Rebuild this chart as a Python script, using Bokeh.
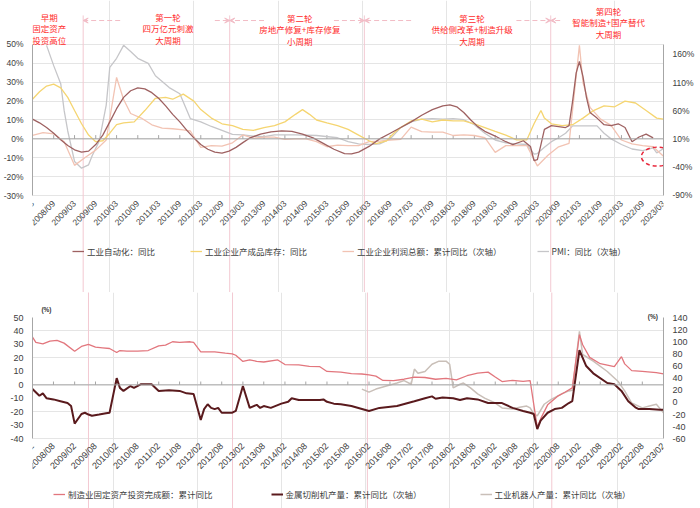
import pandas as pd
from datetime import datetime
from bokeh.plotting import figure
from bokeh.models import (Range1d, LinearAxis, FixedTicker, PrintfTickFormatter,
                          ColumnDataSource, LabelSet, Legend, LegendItem, Span,
                          Arrow, VeeHead)
from bokeh.layouts import column
from bokeh.embed import file_html
from bokeh.resources import INLINE
from bokeh.core.properties import value

# ---------------- TOP CHART DATA ----------------
top_tick_labels = ["2008/03", "2008/09", "2009/03", "2009/09", "2010/03", "2010/09", "2011/03",
                   "2011/09", "2012/03", "2012/09", "2013/03", "2013/09", "2014/03", "2014/09",
                   "2015/03", "2015/09", "2016/03", "2016/09", "2017/03", "2017/09", "2018/03",
                   "2018/09", "2019/03", "2019/09", "2020/03", "2020/09", "2021/03", "2021/09",
                   "2022/03", "2022/09", "2023/03"]
top_left_ticks = [-30, -20, -10, 0, 10, 20, 30, 40, 50]
top_right_ticks = [-90, -40, 10, 60, 110, 160]
top_names = ["工业自动化：同比", "工业企业产成品库存：同比",
             "工业企业利润总额：累计同比（次轴）", "PMI：同比（次轴）"]

auto_dates = ["2008-03", "2008-05", "2008-07", "2008-09", "2008-11", "2009-01", "2009-03", "2009-05",
              "2009-07", "2009-09", "2009-11", "2010-01", "2010-03", "2010-05", "2010-07", "2010-09",
              "2010-11", "2011-01", "2011-03", "2011-05", "2011-07", "2011-09", "2011-11", "2012-01",
              "2012-03", "2012-05", "2012-07", "2012-09", "2012-11", "2013-01", "2013-03", "2013-05",
              "2013-08", "2013-11", "2014-02", "2014-05", "2014-08", "2014-11", "2015-02", "2015-05",
              "2015-08", "2015-10", "2015-12", "2016-03", "2016-06", "2016-09", "2016-12", "2017-03",
              "2017-06", "2017-09", "2017-12", "2018-02", "2018-04", "2018-06", "2018-08", "2018-10",
              "2018-12", "2019-03", "2019-06", "2019-08", "2019-11", "2020-01", "2020-02", "2020-03",
              "2020-04", "2020-05", "2020-07", "2020-09", "2020-11", "2020-12", "2021-01", "2021-02",
              "2021-03", "2021-04", "2021-05", "2021-06", "2021-08", "2021-10", "2021-12", "2022-02",
              "2022-04", "2022-06", "2022-08", "2022-10", "2022-12"]
auto_vals = [10.5, 8.5, 6, 3, -0.5, -3.5, -5.8, -7,
             -6.5, -3, 2, 9, 16, 22, 25.5, 27,
             26.5, 24.5, 21.5, 17.5, 13, 9, 4.5, 0.5,
             -3, -5.5, -7, -7.5, -6.5, -4.5, -2, 0.5,
             2.5, 3.7, 4.2, 4, 2.5, 0.5, -2.5, -5.5,
             -7.8, -8, -7, -4, 0, 3, 6, 9,
             12.5, 15.5, 17.5, 18, 17, 14, 10, 6.5,
             4, 1.5, -1.5, -3, -1, -4, -11.5, -11,
             -3, 5, 7, 6.5, 6, 7, 20, 35,
             41, 33, 22, 14, 11, 7.5, 7, 8,
             6, -1.5, 1, 2.5, 0.5]

inv_dates = ["2008-03", "2008-05", "2008-07", "2008-09", "2008-11", "2009-01", "2009-03", "2009-05",
             "2009-07", "2009-09", "2009-11", "2010-01", "2010-03", "2010-05", "2010-08", "2010-11",
             "2011-02", "2011-05", "2011-07", "2011-10", "2012-01", "2012-03", "2012-06", "2012-09",
             "2012-12", "2013-03", "2013-06", "2013-09", "2013-12", "2014-03", "2014-06", "2014-08",
             "2014-10", "2014-12", "2015-03", "2015-06", "2015-09", "2015-12", "2016-03", "2016-05",
             "2016-08", "2016-10", "2016-12", "2017-03", "2017-06", "2017-09", "2017-12", "2018-03",
             "2018-06", "2018-09", "2018-12", "2019-03", "2019-06", "2019-09", "2019-12", "2020-02",
             "2020-04", "2020-05", "2020-07", "2020-10", "2021-01", "2021-04", "2021-07", "2021-10",
             "2022-01", "2022-04", "2022-07", "2022-10", "2023-01", "2023-03"]
inv_vals = [21, 25, 28, 29, 27, 22, 15, 8,
            2, -1.5, -1, 3, 7.5, 8.5, 9, 15,
            21.5, 22, 21, 23.7, 20, 15.5, 11, 8,
            7, 5, 4.5, 6, 7, 9, 13, 15.5,
            13, 10, 8.5, 7, 5, 2, -1, -2.5,
            -1, 3, 6, 9.5, 10.5, 9, 10, 9.5,
            9.5, 8, 6, 4, 2, -0.5, -0.5, 8,
            15, 11, 8, 7, 7.5, 11, 15, 17.5,
            17, 20, 19, 15, 11, 10.5]

profit_dates = ["2008-03", "2008-06", "2008-09", "2008-12", "2009-03", "2009-06", "2009-09", "2009-12",
                "2010-03", "2010-05", "2010-07", "2010-10", "2011-01", "2011-04", "2011-07", "2011-10",
                "2011-12", "2012-03", "2012-06", "2012-09", "2012-12", "2013-03", "2013-06", "2013-09",
                "2013-12", "2014-03", "2014-06", "2014-09", "2014-12", "2015-03", "2015-06", "2015-09",
                "2015-12", "2016-03", "2016-06", "2016-09", "2016-12", "2017-03", "2017-06", "2017-09",
                "2017-12", "2018-03", "2018-06", "2018-09", "2018-12", "2019-03", "2019-06", "2019-09",
                "2019-12", "2020-03", "2020-06", "2020-09", "2020-12", "2021-03", "2021-04", "2021-06",
                "2021-09", "2021-12", "2022-03", "2022-06", "2022-09", "2022-12", "2023-03"]
profit_vals = [16, 21, 19, 5, -37, -23, -10, 8,
               119, 80, 55, 47, 35, 29, 28, 26,
               24, -5, -2, -3, 3, 17, 11, 13,
               13, 9, 10, 10, 5, -4, -1, -2,
               -2, 5, 6, 8, 9, 31, 23, 22,
               22, 16, 17, 16, 12, -14, -2, -2,
               -2, -38, -19, -4, 2, 176, 110, 66,
               45, 34, 8, 1, -2, -4, -21]

pmi_dates = ["2008-07", "2008-09", "2008-11", "2008-12", "2009-01", "2009-03", "2009-05", "2009-07",
             "2009-08", "2009-10", "2009-12", "2010-01", "2010-03", "2010-05", "2010-07", "2010-09",
             "2010-12", "2011-02", "2011-04", "2011-06", "2011-09", "2011-12", "2012-03", "2012-06",
             "2012-09", "2012-12", "2013-03", "2013-06", "2013-09", "2013-12", "2014-06", "2014-12",
             "2015-06", "2015-09", "2015-12", "2016-03", "2016-06", "2016-09", "2016-12", "2017-03",
             "2017-06", "2017-09", "2017-12", "2018-03", "2018-06", "2018-09", "2018-12", "2019-03",
             "2019-06", "2019-09", "2019-12", "2020-02", "2020-03", "2020-05", "2020-07", "2020-09",
             "2020-11", "2021-01", "2021-03", "2021-06", "2021-08", "2021-10", "2021-12", "2022-03",
             "2022-06", "2022-09", "2022-12", "2023-01", "2023-03"]
pmi_vals = [176, 140, 108, 60, 24, -30, -42, -36,
            -20, 6, 70, 137, 153, 176, 165, 153,
            144, 122, 112, 101, 90, 46, 40, 32,
            25, 18, 17, 15, 14, 17, 17, 16,
            12, 5, 1, 0, 1, 10, 30, 40,
            45, 46, 45, 46, 44, 35, 20, 8,
            3, 1, 0, -17, -16, -5, 5, 12,
            20, 33, 33, 33, 33, 20, 10, 0,
            -8, -11, -6, -15, -7]

phase_labels = ["早期\n固定资产\n投资高位", "第一轮\n四万亿元刺激\n大周期",
                "第二轮\n房地产修复+库存修复\n小周期", "第三轮\n供给侧改革+制造升级\n大周期",
                "第四轮\n智能制造+国产替代\n大周期"]
phase_centers = ["2008-07-25", "2011-05-21", "2014-07-09", "2018-08-12", "2021-11-09"]
phase_first_line = [64.8, 64.8, 64.3, 64.3, 68.0]
PHASE_STEP = 6.1

top_bounds = ["2009-05-15", "2012-11-07", "2016-01-20", "2020-06-25"]
arrow_from = ["2010-04-01", "2012-07-01", "2013-09-01", "2015-05-01", "2017-03-01", "2019-09-01", "2020-09-15"]
arrow_to = ["2009-05-15", "2012-11-07", "2012-11-07", "2016-01-20", "2016-01-20", "2020-06-25", "2020-06-25"]
ellipse_at = ["2023-01-07"]
ellipse_val = [-9.4]

# ---------------- BOTTOM CHART DATA ----------------
bot_tick_labels = ["2008/02", "2008/08", "2009/02", "2009/08", "2010/02", "2010/08", "2011/02",
                   "2011/08", "2012/02", "2012/08", "2013/02", "2013/08", "2014/02", "2014/08",
                   "2015/02", "2015/08", "2016/02", "2016/08", "2017/02", "2017/08", "2018/02",
                   "2018/08", "2019/02", "2019/08", "2020/02", "2020/08", "2021/02", "2021/08",
                   "2022/02", "2022/08", "2023/02"]
bot_left_ticks = [-40, -30, -20, -10, 0, 10, 20, 30, 40, 50]
bot_right_ticks = [-60, -40, -20, 0, 20, 40, 60, 80, 100, 120, 140]
bot_names = ["制造业固定资产投资完成额：累计同比", "金属切削机产量：累计同比（次轴）",
             "工业机器人产量：累计同比（次轴）"]

fai_dates = ["2008-02", "2008-03", "2008-05", "2008-07", "2008-09", "2008-11", "2009-02", "2009-04",
             "2009-06", "2009-08", "2009-10", "2009-12", "2010-02", "2010-03", "2010-05", "2010-08",
             "2010-11", "2011-02", "2011-04", "2011-06", "2011-08", "2011-11", "2011-12", "2012-02",
             "2012-06", "2012-09", "2012-11", "2012-12", "2013-02", "2013-04", "2013-06", "2013-08",
             "2013-12", "2014-02", "2014-06", "2014-09", "2014-12", "2015-02", "2015-06", "2015-09",
             "2015-12", "2016-02", "2016-04", "2016-06", "2016-09", "2016-12", "2017-03", "2017-06",
             "2017-09", "2017-12", "2018-03", "2018-06", "2018-09", "2018-12", "2019-02", "2019-04",
             "2019-07", "2019-10", "2019-12", "2020-02", "2020-03", "2020-05", "2020-08", "2020-10",
             "2020-12", "2021-02", "2021-03", "2021-05", "2021-08", "2021-12", "2022-02", "2022-03",
             "2022-05", "2022-08", "2022-12", "2023-02"]
fai_vals = [35.5, 31.5, 30.5, 32.5, 33, 31, 25, 28.5,
            30, 28, 27.5, 27, 24, 25.5, 25, 25,
            25.5, 29, 29.5, 32, 31.5, 32, 31.5, 24.5,
            24.5, 23.5, 23, 22, 17.4, 18.5, 17.5, 17,
            18.5, 15.1, 14.8, 13.8, 13.5, 10, 9.5, 8.3,
            8.1, 7.5, 6.5, 3.3, 3.1, 4.2, 5.8, 5.5,
            4.2, 4.8, 3.8, 6.8, 8.7, 9.5, 5.9, 2.5,
            3.3, 2.6, 3.1, -31.5, -25.2, -14.8, -8.1, -5.3,
            -2.2, 37.3, 29.8, 20.4, 15.7, 13.5, 20.9, 15.6,
            10.6, 10, 9.1, 8.1]

mt_dates = ["2008-02", "2008-04", "2008-05", "2008-06", "2008-08", "2008-10", "2008-12", "2009-01",
            "2009-02", "2009-04", "2009-05", "2009-06", "2009-07", "2009-09", "2009-11", "2009-12",
            "2010-02", "2010-03", "2010-04", "2010-06", "2010-07", "2010-09", "2010-12", "2011-02",
            "2011-05", "2011-08", "2011-10", "2011-12", "2012-02", "2012-03", "2012-04", "2012-05",
            "2012-06", "2012-07", "2012-08", "2012-11", "2012-12", "2013-02", "2013-04", "2013-06",
            "2013-07", "2013-08", "2013-10", "2014-01", "2014-03", "2014-04", "2014-06", "2014-12",
            "2015-01", "2015-02", "2015-04", "2015-06", "2015-09", "2016-02", "2016-05", "2016-10",
            "2017-03", "2017-06", "2017-08", "2017-09", "2017-11", "2018-02", "2018-04", "2018-06",
            "2018-09", "2018-12", "2019-04", "2019-07", "2019-10", "2019-12", "2020-01", "2020-02",
            "2020-03", "2020-05", "2020-07", "2020-09", "2020-11", "2020-12", "2021-02", "2021-04",
            "2021-06", "2021-10", "2021-12", "2022-02", "2022-04", "2022-06", "2022-07", "2022-10",
            "2023-01", "2023-02"]
mt_vals = [22, 11, 15, 7, 5, 2, -1, -6,
           -35, -19, -17, -20, -22, -20, -18, -17,
           40, 24, 19, 27, 24, 30, 30, 19,
           20, 19, 15, 14, -29, -11, -3, -9,
           -11, -9, -17, -17, -14, 27, -9, -4,
           -9, -6, -9, -2, 1, 7, 4, 4,
           5, 1, -2, -3, -6, -14, -9, -6,
           2, 7, 10, 6, 8, 7, 4, 7,
           5, -1, -1, -9, -14, -17, -19, -44,
           -30, -17, -11, -9, -1, 2, 86, 60,
           48, 32, 30, 19, 2, -8, -11, -11,
           -12, -12]

robot_dates = ["2015-12", "2016-02", "2016-04", "2016-07", "2016-10", "2016-12", "2017-02", "2017-03",
               "2017-04", "2017-06", "2017-08", "2017-10", "2017-12", "2018-01", "2018-02", "2018-04",
               "2018-05", "2018-07", "2018-09", "2018-11", "2019-02", "2019-04", "2019-07", "2019-09",
               "2019-11", "2019-12", "2020-01", "2020-02", "2020-04", "2020-06", "2020-09", "2020-11",
               "2020-12", "2021-02", "2021-03", "2021-06", "2021-10", "2022-01", "2022-03", "2022-05",
               "2022-08", "2022-10", "2022-12", "2023-02"]
robot_vals = [22, 17, 22, 27, 32, 36, 30, 55,
              48, 51, 63, 68, 68, 63, 24, 30,
              32, 24, 14, 7, -1, -9, -11, -8,
              -6, -9, -19, -22, -3, 5, 14, 19,
              20, 117, 79, 68, 51, 35, 19, -1,
              -9, -6, -3, -17]

bot_bounds = ["2009-06-01", "2012-11-03", "2016-01-18", "2020-06-06"]
pct_label_at = ["2008-06-01", "2022-11-01"]
pct_label_val = [55.9, 50.7]

# ---------------- helpers / styles ----------------
def D(lst):
    return pd.to_datetime(pd.Series(lst), format="ISO8601").values

def T(lst):
    return pd.to_datetime(pd.Series(lst), format="%Y/%m").values

NUM_FONT = "Liberation Sans"
CJK_FONT = "Noto Sans CJK SC"
AXIS_C = "#a6a6a6"
TXT_C = "#404040"
VLINE_C = "#f3c9d2"
ARROW_C = "#f2bcc6"

def style_axis(ax, size):
    ax.axis_line_color = AXIS_C
    ax.major_tick_line_color = None
    ax.minor_tick_line_color = None
    ax.major_label_text_color = TXT_C
    ax.major_label_text_font = NUM_FONT
    ax.major_label_text_font_size = size
    ax.major_label_standoff = 3

W = 700

# ================= TOP FIGURE =================
TOP_Y = (-81.39, 73.31)
K_TOP, C_TOP = 3.35, 10.0
p1 = figure(width=W, height=292, x_axis_type="datetime",
            x_range=Range1d(datetime(2008, 3, 1), datetime(2023, 3, 1)),
            y_range=Range1d(*TOP_Y), x_axis_location=None, y_axis_location=None,
            output_backend="svg", toolbar_location=None, title=None,
            min_border_left=28, min_border_right=35, min_border_top=0, min_border_bottom=0)
p1.outline_line_color = None
p1.extra_y_ranges = {"r": Range1d(C_TOP + K_TOP * TOP_Y[0], C_TOP + K_TOP * TOP_Y[1])}

axl = LinearAxis(bounds=(-30, 50), ticker=FixedTicker(ticks=top_left_ticks),
                 formatter=PrintfTickFormatter(format="%d%%"))
style_axis(axl, "8.5px")
p1.add_layout(axl, "left")
axr = LinearAxis(y_range_name="r", bounds=(-90, 177.5), ticker=FixedTicker(ticks=top_right_ticks),
                 formatter=PrintfTickFormatter(format="%d%%"))
style_axis(axr, "8.5px")
p1.add_layout(axr, "right")

# period separators
vs1 = ColumnDataSource(dict(x=D(top_bounds)))
p1.segment(x0="x", y0=65.4, x1="x", y1=-95, source=vs1, line_color=VLINE_C, line_width=1)

# zero axis line + ticks + rotated date labels
p1.add_layout(Span(location=0, dimension="width", line_color=AXIS_C, line_width=1))
tk1 = ColumnDataSource(dict(x=T(top_tick_labels), y=[-33.5] * len(top_tick_labels), t=top_tick_labels))
p1.segment(x0="x", y0=0, x1="x", y1=2, source=tk1, line_color=AXIS_C, line_width=1)
p1.add_layout(LabelSet(x="x", y="y", text="t", source=tk1, angle=45, angle_units="deg",
                       text_align="right", text_baseline="middle", text_font=value(NUM_FONT),
                       text_font_size="8.5px", text_color=TXT_C))

# series
r_pmi = p1.line(x=D(pmi_dates), y=pmi_vals, y_range_name="r", line_color="#c6c6c9", line_width=1.3)
r_profit = p1.line(x=D(profit_dates), y=profit_vals, y_range_name="r", line_color="#f2c3b3", line_width=1.3)
r_inv = p1.line(x=D(inv_dates), y=inv_vals, line_color="#f5d571", line_width=1.3)
r_auto = p1.line(x=D(auto_dates), y=auto_vals, line_color="#9e6161", line_width=1.3)

# phase annotations, one text row per line
ph_x, ph_y, ph_t = [], [], []
for c, y0, lab in zip(phase_centers, phase_first_line, phase_labels):
    for j, line in enumerate(lab.split("\n")):
        ph_x.append(c)
        ph_y.append(y0 - j * PHASE_STEP)
        ph_t.append(line)
ph = ColumnDataSource(dict(x=D(ph_x), y=ph_y, t=ph_t))
p1.text(x="x", y="y", text="t", source=ph, text_align="center", text_baseline="middle",
        text_font=value(CJK_FONT), text_font_size="8.5px", text_color="#ff2b2b")
ar = ColumnDataSource(dict(x0=D(arrow_from), x1=D(arrow_to), y=[62.7] * len(arrow_from)))
p1.add_layout(Arrow(x_start="x0", y_start="y", x_end="x1", y_end="y", source=ar,
                    line_color=ARROW_C, line_width=1, line_dash="5 3",
                    end=VeeHead(size=5, line_color=ARROW_C, fill_color=ARROW_C, line_width=1)))

el = ColumnDataSource(dict(x=D(ellipse_at), y=ellipse_val))
p1.ellipse(x="x", y="y", width=32, height=19, width_units="screen", height_units="screen",
           source=el, fill_color=None, line_color="#e8283c", line_dash="4 3", line_width=1.5)

leg1 = Legend(items=[LegendItem(label=top_names[0], renderers=[r_auto]),
                     LegendItem(label=top_names[1], renderers=[r_inv]),
                     LegendItem(label=top_names[2], renderers=[r_profit]),
                     LegendItem(label=top_names[3], renderers=[r_pmi])],
              orientation="horizontal", location=(40, 35), spacing=35, padding=0, margin=0,
              glyph_width=12, glyph_height=10, label_height=10, label_standoff=3,
              label_text_font=CJK_FONT, label_text_font_size="8.5px", label_text_color=TXT_C,
              background_fill_alpha=0, border_line_alpha=0)
p1.add_layout(leg1)

# ================= BOTTOM FIGURE =================
BOT_Y = (-91.7, 68.55)
K_BOT, C_BOT = 2.2222, 28.9
p2 = figure(width=W, height=216, x_axis_type="datetime",
            x_range=Range1d(datetime(2008, 2, 1), datetime(2023, 2, 1)),
            y_range=Range1d(*BOT_Y), x_axis_location=None, y_axis_location=None,
            output_backend="svg", toolbar_location=None, title=None,
            min_border_left=23, min_border_right=37, min_border_top=0, min_border_bottom=0)
p2.outline_line_color = None
p2.extra_y_ranges = {"r": Range1d(C_BOT + K_BOT * BOT_Y[0], C_BOT + K_BOT * BOT_Y[1])}

bxl = LinearAxis(bounds=(-40, 50), ticker=FixedTicker(ticks=bot_left_ticks),
                 formatter=PrintfTickFormatter(format="%d"))
style_axis(bxl, "9px")
p2.add_layout(bxl, "left")
bxr = LinearAxis(y_range_name="r", bounds=(-60, 140), ticker=FixedTicker(ticks=bot_right_ticks),
                 formatter=PrintfTickFormatter(format="%d"))
style_axis(bxr, "9px")
p2.add_layout(bxr, "right")

vs2 = ColumnDataSource(dict(x=D(bot_bounds)))
p2.segment(x0="x", y0=75, x1="x", y1=-100, source=vs2, line_color=VLINE_C, line_width=1)

p2.add_layout(Span(location=0, dimension="width", line_color=AXIS_C, line_width=1))
tk2 = ColumnDataSource(dict(x=T(bot_tick_labels), y=[-44.2] * len(bot_tick_labels), t=bot_tick_labels))
p2.segment(x0="x", y0=0, x1="x", y1=2.5, source=tk2, line_color=AXIS_C, line_width=1)
p2.add_layout(LabelSet(x="x", y="y", text="t", source=tk2, angle=45, angle_units="deg",
                       text_align="right", text_baseline="middle", text_font=value(NUM_FONT),
                       text_font_size="9px", text_color=TXT_C))

pc = ColumnDataSource(dict(x=D(pct_label_at), y=pct_label_val, t=["(%)", "(%)"]))
p2.text(x="x", y="y", text="t", source=pc, text_align="center", text_baseline="middle",
        text_font=value(NUM_FONT), text_font_size="6.5px", text_font_style="bold", text_color="#333333")

r_robot = p2.line(x=D(robot_dates), y=robot_vals, y_range_name="r", line_color="#c9bfb8", line_width=1.5)
r_fai = p2.line(x=D(fai_dates), y=fai_vals, line_color="#e2767d", line_width=1.3)
r_mt = p2.line(x=D(mt_dates), y=mt_vals, y_range_name="r", line_color="#5a1a1d", line_width=2)

leg2 = Legend(items=[LegendItem(label=bot_names[0], renderers=[r_fai]),
                     LegendItem(label=bot_names[1], renderers=[r_mt]),
                     LegendItem(label=bot_names[2], renderers=[r_robot])],
              orientation="horizontal", location=(21, 8), spacing=58, padding=0, margin=0,
              glyph_width=12, glyph_height=10, label_height=10, label_standoff=3,
              label_text_font=CJK_FONT, label_text_font_size="8.5px", label_text_color=TXT_C,
              background_fill_alpha=0, border_line_alpha=0)
p2.add_layout(leg2)

layout = column(p1, p2)
open("out.html", "w").write(file_html(layout, INLINE))
